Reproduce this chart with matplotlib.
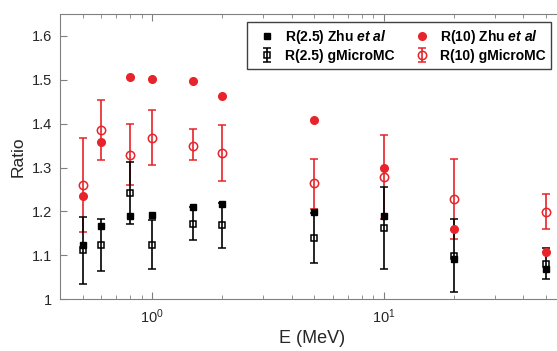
import matplotlib.pyplot as plt
from matplotlib.ticker import LogLocator, NullFormatter, FixedLocator

# energies (MeV)
energy = [0.5, 0.6, 0.8, 1.0, 1.5, 2.0, 5.0, 10.0, 20.0, 50.0]

# R(2.5) Zhu et al
zhu25 = [1.124, 1.167, 1.190, 1.191, 1.211, 1.216, 1.199, 1.189, 1.092, 1.069]
# R(2.5) gMicroMC
gm25 = [1.111, 1.123, 1.243, 1.124, 1.172, 1.168, 1.140, 1.163, 1.098, 1.081]
gm25_lo = [1.035, 1.063, 1.172, 1.068, 1.135, 1.117, 1.083, 1.069, 1.016, 1.046]
gm25_hi = [1.186, 1.183, 1.313, 1.180, 1.209, 1.219, 1.197, 1.256, 1.182, 1.116]

# R(10) Zhu et al
zhu10 = [1.234, 1.359, 1.506, 1.502, 1.498, 1.464, 1.408, 1.298, 1.160, 1.107]
# R(10) gMicroMC
gm10 = [1.260, 1.385, 1.329, 1.368, 1.350, 1.332, 1.264, 1.278, 1.228, 1.199]
gm10_lo = [1.154, 1.318, 1.259, 1.306, 1.316, 1.269, 1.205, 1.183, 1.138, 1.160]
gm10_hi = [1.367, 1.454, 1.400, 1.431, 1.387, 1.397, 1.320, 1.373, 1.320, 1.240]

plt.rcParams['font.family'] = ['Liberation Sans', 'DejaVu Sans']
plt.rcParams['mathtext.fontset'] = 'custom'
plt.rcParams['mathtext.rm'] = 'Liberation Sans'
plt.rcParams['mathtext.it'] = 'Liberation Sans:italic'
plt.rcParams['mathtext.bf'] = 'Liberation Sans:bold'
plt.rcParams['mathtext.bfit'] = 'Liberation Sans:italic:bold'

red = '#e8232a'
fig = plt.figure(figsize=(5.57, 3.51), dpi=100)
ax = fig.add_axes([0.108, 0.148, 0.905, 0.812])

err25 = [[c - l for c, l in zip(gm25, gm25_lo)], [h - c for c, h in zip(gm25, gm25_hi)]]
err10 = [[c - l for c, l in zip(gm10, gm10_lo)], [h - c for c, h in zip(gm10, gm10_hi)]]

h_gm10 = ax.errorbar(energy, gm10, yerr=err10, fmt='o', color=red, mfc='none',
                     ms=6, mew=1.1, elinewidth=1.2, capsize=3, capthick=1.2)
h_gm25 = ax.errorbar(energy, gm25, yerr=err25, fmt='s', color='black', mfc='none',
                     ms=4.8, mew=1.1, elinewidth=1.2, capsize=3, capthick=1.2)
h_zhu10, = ax.plot(energy, zhu10, 'o', color=red, ms=5.5, ls='none')
h_zhu25, = ax.plot(energy, zhu25, 's', color='black', ms=4.3, ls='none')

ax.set_xscale('log')
ax.set_xlim(0.4, 60)
ax.set_ylim(1, 1.65)
ax.set_yticks([1, 1.1, 1.2, 1.3, 1.4, 1.5, 1.6])
ax.set_yticklabels(['1', '1.1', '1.2', '1.3', '1.4', '1.5', '1.6'])
ax.xaxis.set_major_locator(FixedLocator([1, 10]))
ax.set_xticklabels(['$10^0$', '$10^1$'])
ax.xaxis.set_minor_locator(LogLocator(base=10, subs=range(2, 10), numticks=20))
ax.xaxis.set_minor_formatter(NullFormatter())

ax.tick_params(which='both', direction='in', top=True, right=True, labelsize=10.5)
ax.tick_params(which='major', length=5, pad=6)
ax.tick_params(which='minor', length=3)
ax.tick_params(axis='both', which='both', colors='#808080', labelcolor='#262626')
for s in ax.spines.values():
    s.set_color('#808080')

ax.set_xlabel('E (MeV)', fontsize=13, color='#262626', labelpad=3)
ax.set_ylabel('Ratio', fontsize=12.5, color='#262626', labelpad=4)

leg = ax.legend([h_zhu25, h_gm25, h_zhu10, h_gm10],
                [r'R(2.5) Zhu $\mathbfit{et\ al}$', 'R(2.5) gMicroMC',
                 r'R(10) Zhu $\mathbfit{et\ al}$', 'R(10) gMicroMC'],
                ncol=2, loc='upper left', bbox_to_anchor=(0.371, 0.972),
                borderaxespad=0, prop={'weight': 'bold', 'size': 10},
                fancybox=False, edgecolor='#404040', framealpha=1,
                borderpad=0.4, handletextpad=0.25, columnspacing=0.9,
                labelspacing=0.25, handlelength=2.1)
leg.get_frame().set_linewidth(1.0)

fig.savefig('out.png', dpi=100)
